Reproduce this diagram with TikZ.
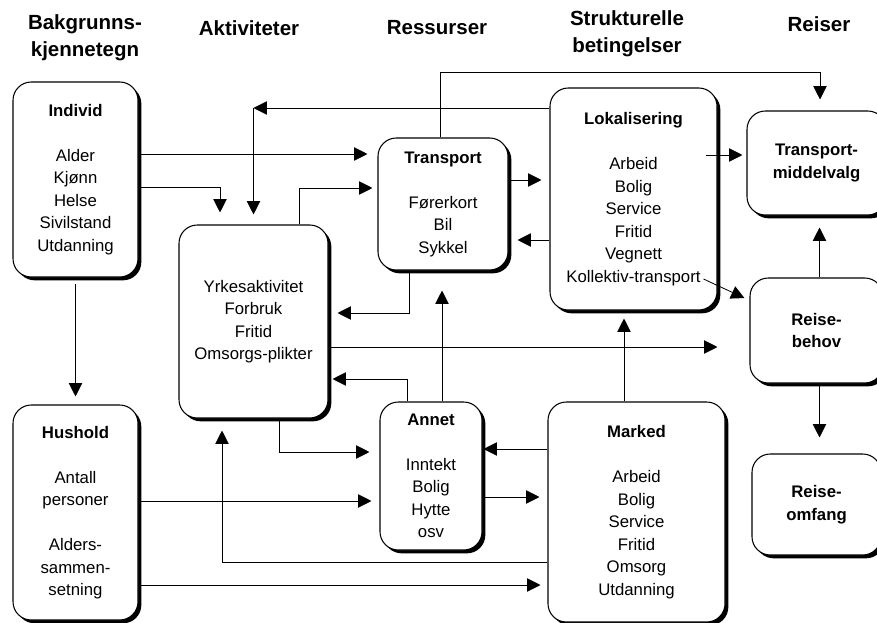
\documentclass[tikz,border=0pt]{standalone}
\usepackage{fontspec}
\setmainfont{Liberation Sans}
\usetikzlibrary{arrows.meta,calc,shadows}

\begin{document}
\begin{tikzpicture}[x=0.03cm, y=-0.03cm,
    kolonne/.style={font=\fontsize{17.5}{23}\selectfont\bfseries, align=center},
    boks/.style={draw, fill=white, line width=0.9pt, rounded corners=0.55cm,
      align=center, inner sep=0pt, font=\fontsize{14.3}{19.2}\selectfont,
      drop shadow={shadow xshift=0.1cm, shadow yshift=-0.1cm, opacity=1, fill=black}},
    pil/.style={-{Triangle[length=0.4cm,width=0.4cm]}, line width=0.7pt, shorten >=#1},
    pil/.default=0.25cm]
      \useasboundingbox (0,0) rectangle (877,623);

      \node[kolonne] (bakgrunn) at (85,38) {Bakgrunns-\\kjennetegn};
      \node[kolonne] (aktivitet) at (249,28) {Aktiviteter};
      \node[kolonne] (ressurs) at (437,28) {Ressurser};
      \node[kolonne] (struktur) at (627,34) {Strukturelle\\betingelser};
      \node[kolonne] (reiser) at (819,24) {Reiser};

      \node[boks, minimum width=3.75cm, minimum height=5.85cm] (individ) at (75.5,179.5)
        {\textbf{Individ}\\[0.675cm]Alder\\Kjønn\\Helse\\Sivilstand\\Utdanning};
      \node[boks, minimum width=3.75cm, minimum height=6.45cm] (hushold) at (75.5,512.5)
        {\textbf{Hushold}\\[0.675cm]Antall\\personer\\[0.675cm]Alders-\\sammen-\\setning};
      \node[boks, minimum width=4.47cm, minimum height=5.79cm] (aktiv) at (253.5,321.5)
        {Yrkesaktivitet\\Forbruk\\Fritid\\Omsorgs-plikter};
      \node[boks, minimum width=3.9cm, minimum height=3.96cm] (transport) at (443,204)
        {\textbf{Transport}\\[0.675cm]Førerkort\\Bil\\Sykkel};
      \node[boks, minimum width=3.06cm, minimum height=4.44cm] (annet) at (431,476)
        {\textbf{Annet}\\[0.675cm]Inntekt\\Bolig\\Hytte\\osv};
      \node[boks, minimum width=5.01cm, minimum height=6.66cm] (lok) at (633.5,199)
        {\textbf{Lokalisering}\\[0.675cm]Arbeid\\Bolig\\Service\\Fritid\\Vegnett\\Kollektiv-transport};
      \node[boks, minimum width=5.31cm, minimum height=6.6cm] (marked) at (636.5,512)
        {\textbf{Marked}\\[0.675cm]Arbeid\\Bolig\\Service\\Fritid\\Omsorg\\Utdanning};
      \node[boks, minimum width=4.17cm, minimum height=3.12cm] (tmv) at (816.5,163)
        {\textbf{Transport-}\\\textbf{middelvalg}};
      \node[boks, minimum width=3.99cm, minimum height=3.15cm] (behov) at (816.5,330.5)
        {\textbf{Reise-}\\\textbf{behov}};
      \node[boks, minimum width=3.87cm, minimum height=3.03cm] (omfang) at (816.5,504.5)
        {\textbf{Reise-}\\\textbf{omfang}};

      \draw[pil=0.3cm] (individ.east |- 0,154) -- (transport.west |- 0,154);
      \draw[pil=0.36cm] (individ.east |- 0,187) -| ($(aktiv.north)+(-33.5,0)$);
      \draw[pil=0cm] (lok.west |- 0,108) -- (aktiv.north |- 0,108);
      \draw[pil=0.3cm] (aktiv.north |- 0,108) -- (aktiv.north);
      \draw[pil=0.15cm] ($(aktiv.north)+(45.5,0)$) |- (transport.west |- 0,188);
      \draw[pil=0.33cm] ($(transport.north)+(-3,0)$) -- ++(0,-65) -| ($(tmv.north)+(3.5,0)$);
      \draw[pil=0.24cm] (transport.east |- 0,180) -- (lok.west |- 0,180);
      \draw[pil=0.27cm] (lok.west |- 0,240) -- (transport.east |- 0,240);
      \draw[pil=0.27cm] ($(transport.south)+(-34,0)$) |- (aktiv.east |- 0,313);
      \draw[pil=0.6cm] ($(annet.north)+(11,0)$) -- ($(transport.south)+(-1,0)$);
      \draw[pil=0.96cm] (aktiv.east |- 0,347) -- (behov.west |- 0,347);
      \draw[pil=0.12cm] ($(annet.north)+(-24,0)$) |- (aktiv.east |- 0,379);
      \draw[pil=0.3cm] ($(aktiv.south)+(25.5,0)$) |- (annet.west |- 0,452);
      \draw[pil=0.24cm] (hushold.east |- 0,501) -- (annet.west |- 0,501);
      \draw[pil=0.36cm] (marked.west |- 0,562) -| ($(aktiv.south)+(-31.5,0)$);
      \draw[pil=0.21cm] (hushold.east |- 0,585) -- (marked.west |- 0,585);
      \draw[pil=0.03cm] (marked.west |- 0,449) -- (annet.east |- 0,449);
      \draw[pil=0.24cm] (annet.east |- 0,497) -- (marked.west |- 0,497);
      \draw[pil=0.24cm] ($(marked.north)+(-12.5,0)$) -- ($(lok.south)+(-9.5,0)$);
      \draw[pil=0.12cm] ($(lok.east |- 0,155)+(-12,0)$) -- (tmv.west |- 0,155);
      \draw[pil=0.1cm] ($(lok.east)+(-14,80)$) -- ($(behov.north west)+(-2,22)$);
      \draw[pil=0.36cm] ($(behov.north)+(3,0)$) -- ($(tmv.south)+(3,0)$);
      \draw[pil=0.48cm] ($(behov.south)+(3,0)$) -- ($(omfang.north)+(3,0)$);
      \draw[pil=0.24cm, shorten <=0.18cm] (individ.south) -- (hushold.north);
  \end{tikzpicture}
\end{document}
